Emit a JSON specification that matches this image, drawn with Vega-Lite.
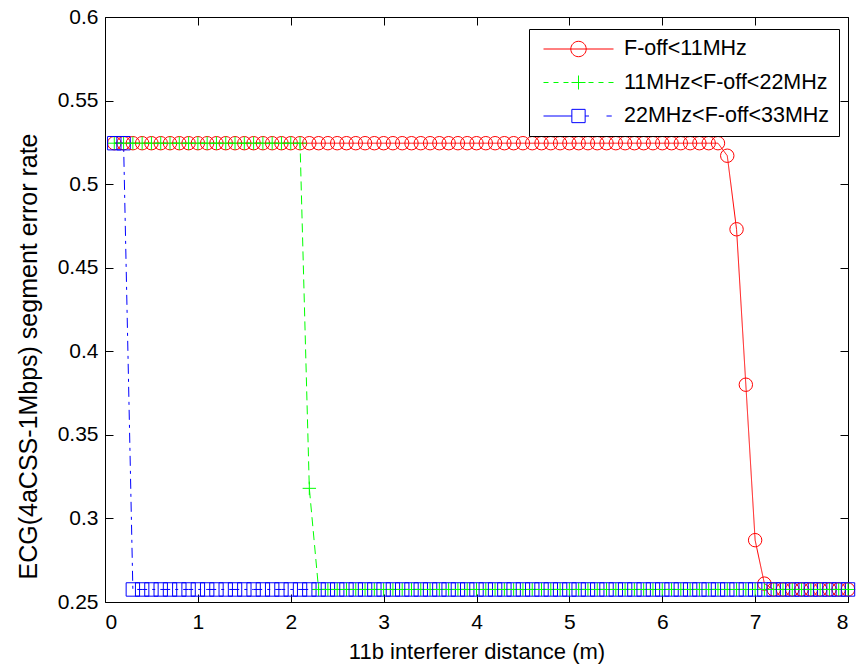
{
  "$schema": "https://vega.github.io/schema/vega-lite/v6.json",
  "width": 743,
  "height": 585,
  "autosize": {"type": "none"},
  "padding": {"left": 105, "top": 17, "right": 17, "bottom": 62},
  "background": "white",
  "config": {
    "view": {"stroke": "black", "strokeWidth": 1},
    "axis": {
      "grid": false,
      "domain": false,
      "tickColor": "black",
      "tickWidth": 1,
      "tickSize": -8,
      "labelColor": "black",
      "labelFont": "Liberation Sans",
      "labelFontSize": 21,
      "titleColor": "black",
      "titleFont": "Liberation Sans",
      "titleFontWeight": "normal"
    }
  },
  "data": {
    "values": [
      {"d": 0.1, "lt11": 0.5245, "11to22": 0.5245, "22to33": 0.5245},
      {"d": 0.2, "lt11": 0.5245, "11to22": 0.5245, "22to33": 0.5245},
      {"d": 0.3, "lt11": 0.5245, "11to22": 0.5245, "22to33": 0.2575},
      {"d": 0.4, "lt11": 0.5245, "11to22": 0.5245, "22to33": 0.2575},
      {"d": 0.5, "lt11": 0.5245, "11to22": 0.5245, "22to33": 0.2575},
      {"d": 0.6, "lt11": 0.5245, "11to22": 0.5245, "22to33": 0.2575},
      {"d": 0.7, "lt11": 0.5245, "11to22": 0.5245, "22to33": 0.2575},
      {"d": 0.8, "lt11": 0.5245, "11to22": 0.5245, "22to33": 0.2575},
      {"d": 0.9, "lt11": 0.5245, "11to22": 0.5245, "22to33": 0.2575},
      {"d": 1.0, "lt11": 0.5245, "11to22": 0.5245, "22to33": 0.2575},
      {"d": 1.1, "lt11": 0.5245, "11to22": 0.5245, "22to33": 0.2575},
      {"d": 1.2, "lt11": 0.5245, "11to22": 0.5245, "22to33": 0.2575},
      {"d": 1.3, "lt11": 0.5245, "11to22": 0.5245, "22to33": 0.2575},
      {"d": 1.4, "lt11": 0.5245, "11to22": 0.5245, "22to33": 0.2575},
      {"d": 1.5, "lt11": 0.5245, "11to22": 0.5245, "22to33": 0.2575},
      {"d": 1.6, "lt11": 0.5245, "11to22": 0.5245, "22to33": 0.2575},
      {"d": 1.7, "lt11": 0.5245, "11to22": 0.5245, "22to33": 0.2575},
      {"d": 1.8, "lt11": 0.5245, "11to22": 0.5245, "22to33": 0.2575},
      {"d": 1.9, "lt11": 0.5245, "11to22": 0.5245, "22to33": 0.2575},
      {"d": 2.0, "lt11": 0.5245, "11to22": 0.5245, "22to33": 0.2575},
      {"d": 2.1, "lt11": 0.5245, "11to22": 0.5245, "22to33": 0.2575},
      {"d": 2.2, "lt11": 0.5245, "11to22": 0.318, "22to33": 0.2575},
      {"d": 2.3, "lt11": 0.5245, "11to22": 0.2575, "22to33": 0.2575},
      {"d": 2.4, "lt11": 0.5245, "11to22": 0.2575, "22to33": 0.2575},
      {"d": 2.5, "lt11": 0.5245, "11to22": 0.2575, "22to33": 0.2575},
      {"d": 2.6, "lt11": 0.5245, "11to22": 0.2575, "22to33": 0.2575},
      {"d": 2.7, "lt11": 0.5245, "11to22": 0.2575, "22to33": 0.2575},
      {"d": 2.8, "lt11": 0.5245, "11to22": 0.2575, "22to33": 0.2575},
      {"d": 2.9, "lt11": 0.5245, "11to22": 0.2575, "22to33": 0.2575},
      {"d": 3.0, "lt11": 0.5245, "11to22": 0.2575, "22to33": 0.2575},
      {"d": 3.1, "lt11": 0.5245, "11to22": 0.2575, "22to33": 0.2575},
      {"d": 3.2, "lt11": 0.5245, "11to22": 0.2575, "22to33": 0.2575},
      {"d": 3.3, "lt11": 0.5245, "11to22": 0.2575, "22to33": 0.2575},
      {"d": 3.4, "lt11": 0.5245, "11to22": 0.2575, "22to33": 0.2575},
      {"d": 3.5, "lt11": 0.5245, "11to22": 0.2575, "22to33": 0.2575},
      {"d": 3.6, "lt11": 0.5245, "11to22": 0.2575, "22to33": 0.2575},
      {"d": 3.7, "lt11": 0.5245, "11to22": 0.2575, "22to33": 0.2575},
      {"d": 3.8, "lt11": 0.5245, "11to22": 0.2575, "22to33": 0.2575},
      {"d": 3.9, "lt11": 0.5245, "11to22": 0.2575, "22to33": 0.2575},
      {"d": 4.0, "lt11": 0.5245, "11to22": 0.2575, "22to33": 0.2575},
      {"d": 4.1, "lt11": 0.5245, "11to22": 0.2575, "22to33": 0.2575},
      {"d": 4.2, "lt11": 0.5245, "11to22": 0.2575, "22to33": 0.2575},
      {"d": 4.3, "lt11": 0.5245, "11to22": 0.2575, "22to33": 0.2575},
      {"d": 4.4, "lt11": 0.5245, "11to22": 0.2575, "22to33": 0.2575},
      {"d": 4.5, "lt11": 0.5245, "11to22": 0.2575, "22to33": 0.2575},
      {"d": 4.6, "lt11": 0.5245, "11to22": 0.2575, "22to33": 0.2575},
      {"d": 4.7, "lt11": 0.5245, "11to22": 0.2575, "22to33": 0.2575},
      {"d": 4.8, "lt11": 0.5245, "11to22": 0.2575, "22to33": 0.2575},
      {"d": 4.9, "lt11": 0.5245, "11to22": 0.2575, "22to33": 0.2575},
      {"d": 5.0, "lt11": 0.5245, "11to22": 0.2575, "22to33": 0.2575},
      {"d": 5.1, "lt11": 0.5245, "11to22": 0.2575, "22to33": 0.2575},
      {"d": 5.2, "lt11": 0.5245, "11to22": 0.2575, "22to33": 0.2575},
      {"d": 5.3, "lt11": 0.5245, "11to22": 0.2575, "22to33": 0.2575},
      {"d": 5.4, "lt11": 0.5245, "11to22": 0.2575, "22to33": 0.2575},
      {"d": 5.5, "lt11": 0.5245, "11to22": 0.2575, "22to33": 0.2575},
      {"d": 5.6, "lt11": 0.5245, "11to22": 0.2575, "22to33": 0.2575},
      {"d": 5.7, "lt11": 0.5245, "11to22": 0.2575, "22to33": 0.2575},
      {"d": 5.8, "lt11": 0.5245, "11to22": 0.2575, "22to33": 0.2575},
      {"d": 5.9, "lt11": 0.5245, "11to22": 0.2575, "22to33": 0.2575},
      {"d": 6.0, "lt11": 0.5245, "11to22": 0.2575, "22to33": 0.2575},
      {"d": 6.1, "lt11": 0.5245, "11to22": 0.2575, "22to33": 0.2575},
      {"d": 6.2, "lt11": 0.5245, "11to22": 0.2575, "22to33": 0.2575},
      {"d": 6.3, "lt11": 0.5245, "11to22": 0.2575, "22to33": 0.2575},
      {"d": 6.4, "lt11": 0.5245, "11to22": 0.2575, "22to33": 0.2575},
      {"d": 6.5, "lt11": 0.5245, "11to22": 0.2575, "22to33": 0.2575},
      {"d": 6.6, "lt11": 0.5245, "11to22": 0.2575, "22to33": 0.2575},
      {"d": 6.7, "lt11": 0.517, "11to22": 0.2575, "22to33": 0.2575},
      {"d": 6.8, "lt11": 0.473, "11to22": 0.2575, "22to33": 0.2575},
      {"d": 6.9, "lt11": 0.380, "11to22": 0.2575, "22to33": 0.2575},
      {"d": 7.0, "lt11": 0.287, "11to22": 0.2575, "22to33": 0.2575},
      {"d": 7.1, "lt11": 0.261, "11to22": 0.2575, "22to33": 0.2575},
      {"d": 7.2, "lt11": 0.2575, "11to22": 0.2575, "22to33": 0.2575},
      {"d": 7.3, "lt11": 0.2575, "11to22": 0.2575, "22to33": 0.2575},
      {"d": 7.4, "lt11": 0.2575, "11to22": 0.2575, "22to33": 0.2575},
      {"d": 7.5, "lt11": 0.2575, "11to22": 0.2575, "22to33": 0.2575},
      {"d": 7.6, "lt11": 0.2575, "11to22": 0.2575, "22to33": 0.2575},
      {"d": 7.7, "lt11": 0.2575, "11to22": 0.2575, "22to33": 0.2575},
      {"d": 7.8, "lt11": 0.2575, "11to22": 0.2575, "22to33": 0.2575},
      {"d": 7.9, "lt11": 0.2575, "11to22": 0.2575, "22to33": 0.2575},
      {"d": 8.0, "lt11": 0.2575, "11to22": 0.2575, "22to33": 0.2575}
    ]
  },
  "transform": [
    {"fold": ["lt11", "11to22", "22to33"], "as": ["band", "rate"]}
  ],
  "resolve": {"axis": {"x": "independent", "y": "independent"}},
  "layer": [
    {
      "mark": {"type": "line", "strokeWidth": 1},
      "encoding": {
        "x": {
          "field": "d",
          "type": "quantitative",
          "scale": {"domain": [0, 8], "nice": false, "zero": false},
          "axis": {
            "orient": "bottom",
            "values": [0, 1, 2, 3, 4, 5, 6, 7, 8],
            "format": "d",
            "labelPadding": 17,
            "title": "11b interferer distance (m)",
            "titleFontSize": 22,
            "titleY": 56,
            "titleBaseline": "alphabetic"
          }
        },
        "y": {
          "field": "rate",
          "type": "quantitative",
          "scale": {"domain": [0.25, 0.6], "nice": false, "zero": false},
          "axis": {
            "orient": "left",
            "values": [0.25, 0.3, 0.35, 0.4, 0.45, 0.5, 0.55, 0.6],
            "format": "~g",
            "labelPadding": 15,
            "title": "ECG(4aCSS-1Mbps) segment error rate",
            "titleFontSize": 25,
            "titleAngle": -90,
            "titleX": -69,
            "titleY": 339,
            "titleAlign": "center",
            "titleBaseline": "alphabetic"
          }
        },
        "color": {
          "field": "band",
          "type": "nominal",
          "scale": {
            "domain": ["lt11", "11to22", "22to33"],
            "range": ["#ff0000", "#00ff00", "#0000ff"]
          },
          "legend": {
            "title": null,
            "orient": "none",
            "legendX": 424,
            "legendY": 12,
            "padding": 9,
            "rowPadding": 11.5,
            "strokeColor": "black",
            "fillColor": "white",
            "cornerRadius": 0,
            "symbolSize": 4900,
            "symbolStrokeWidth": 1,
            "symbolOffset": 5,
            "labelOffset": 10,
            "labelFont": "Liberation Sans",
            "labelFontSize": 21.5,
            "labelColor": "black",
            "labelLimit": 400,
            "labelExpr": "datum.value === 'lt11' ? 'F-off<11MHz' : datum.value === '11to22' ? '11MHz<F-off<22MHz' : '22MHz<F-off<33MHz'",
            "encode": {
              "symbols": {
                "update": {
                  "shape": {"signal": "['M-1,0H1M0.22,0A0.22,0.22,0,1,1,-0.22,0A0.22,0.22,0,1,1,0.22,0', 'M-1,0H-0.857M-0.714,0H-0.571M-0.429,0H-0.286M-0.2,0H0.2M0,-0.2V0.2M0.286,0H0.429M0.571,0H0.714M0.857,0H1', 'M-1,0H-0.19M0.19,0H0.3M0.8,0H0.95M-0.19,-0.19H0.19V0.19H-0.19Z'][datum.index]"},
                  "y": {"value": 11},
                  "fill": {"value": "transparent"},
                  "strokeWidth": {"value": 1},
                  "size": {"value": 4900},
                  "opacity": {"value": 1}
                }
              },
              "labels": {
                "update": {
                  "y": {"value": 11},
                  "text": {"signal": "datum.value === 'lt11' ? 'F-off<11MHz' : datum.value === '11to22' ? '11MHz<F-off<22MHz' : '22MHz<F-off<33MHz'"},
                  "fontSize": {"value": 21.5},
                  "font": {"value": "Liberation Sans"},
                  "fill": {"value": "black"},
                  "opacity": {"value": 1}
                }
              }
            }
          }
        },
        "strokeDash": {
          "condition": [
            {"test": "datum.band === '11to22'", "value": [9, 5]},
            {"test": "datum.band === '22to33'", "value": [10, 5, 3, 5]}
          ],
          "value": [1, 0]
        }
      }
    },
    {
      "mark": {"type": "point", "filled": false, "strokeWidth": 1, "opacity": 1, "size": 180},
      "encoding": {
        "x": {
          "field": "d",
          "type": "quantitative",
          "axis": {
            "orient": "top",
            "values": [0, 1, 2, 3, 4, 5, 6, 7, 8],
            "labels": false,
            "title": null
          }
        },
        "y": {
          "field": "rate",
          "type": "quantitative",
          "axis": {
            "orient": "right",
            "values": [0.25, 0.3, 0.35, 0.4, 0.45, 0.5, 0.55, 0.6],
            "labels": false,
            "title": null
          }
        },
        "color": {"field": "band", "type": "nominal"},
        "shape": {
          "condition": [
            {"test": "datum.band === 'lt11'", "value": "circle"},
            {"test": "datum.band === '11to22'", "value": "M-1,0H1M0,-1V1"}
          ],
          "value": "square"
        }
      }
    }
  ]
}
